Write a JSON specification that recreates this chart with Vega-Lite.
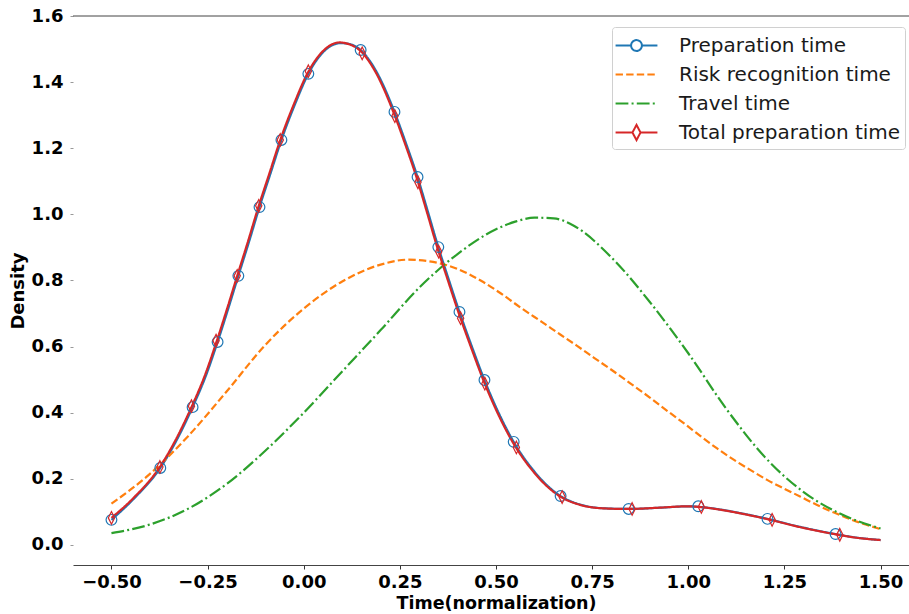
{
  "$schema": "https://vega.github.io/schema/vega-lite/v6.json",
  "width": 846,
  "height": 549,
  "autosize": {"type": "none"},
  "padding": {"left": 73, "top": 16, "right": 0, "bottom": 49},
  "background": "white",
  "config": {
    "view": {"stroke": null},
    "axis": {"grid": false, "labelFont": "DejaVu Sans", "labelFontWeight": "bold", "labelColor": "#000", "titleFont": "DejaVu Sans", "titleFontWeight": "bold", "titleColor": "#000"},
    "legend": {
      "orient": "none", "legendX": 539, "legendY": 11, "title": null,
      "fillColor": "white", "strokeColor": "#d0d0d0", "cornerRadius": 3,
      "padding": 4, "rowPadding": 4, "symbolSize": 729, "symbolStrokeWidth": 2, "symbolOpacity": 1,
      "symbolOffset": 6, "labelOffset": 28,
      "labelFont": "DejaVu Sans", "labelFontSize": 20, "labelColor": "#1a1a1a", "labelLimit": 400
    }
  },
  "datasets": {
    "lines": [
      {"s": "Preparation time", "x": -0.5, "y": 0.076},
      {"s": "Preparation time", "x": -0.44, "y": 0.142},
      {"s": "Preparation time", "x": -0.373, "y": 0.233},
      {"s": "Preparation time", "x": -0.33, "y": 0.318},
      {"s": "Preparation time", "x": -0.289, "y": 0.417},
      {"s": "Preparation time", "x": -0.255, "y": 0.51},
      {"s": "Preparation time", "x": -0.224, "y": 0.614},
      {"s": "Preparation time", "x": -0.197, "y": 0.712},
      {"s": "Preparation time", "x": -0.17, "y": 0.814},
      {"s": "Preparation time", "x": -0.142, "y": 0.918},
      {"s": "Preparation time", "x": -0.115, "y": 1.022},
      {"s": "Preparation time", "x": -0.086, "y": 1.125},
      {"s": "Preparation time", "x": -0.058, "y": 1.225},
      {"s": "Preparation time", "x": -0.022, "y": 1.335},
      {"s": "Preparation time", "x": 0.012, "y": 1.425},
      {"s": "Preparation time", "x": 0.05, "y": 1.49},
      {"s": "Preparation time", "x": 0.096, "y": 1.518},
      {"s": "Preparation time", "x": 0.12, "y": 1.515},
      {"s": "Preparation time", "x": 0.148, "y": 1.497},
      {"s": "Preparation time", "x": 0.19, "y": 1.43},
      {"s": "Preparation time", "x": 0.236, "y": 1.31},
      {"s": "Preparation time", "x": 0.266, "y": 1.215},
      {"s": "Preparation time", "x": 0.296, "y": 1.113},
      {"s": "Preparation time", "x": 0.323, "y": 1.008},
      {"s": "Preparation time", "x": 0.35, "y": 0.901},
      {"s": "Preparation time", "x": 0.378, "y": 0.8},
      {"s": "Preparation time", "x": 0.405, "y": 0.705},
      {"s": "Preparation time", "x": 0.438, "y": 0.598},
      {"s": "Preparation time", "x": 0.47, "y": 0.499},
      {"s": "Preparation time", "x": 0.508, "y": 0.397},
      {"s": "Preparation time", "x": 0.546, "y": 0.312},
      {"s": "Preparation time", "x": 0.6, "y": 0.222},
      {"s": "Preparation time", "x": 0.64, "y": 0.173},
      {"s": "Preparation time", "x": 0.668, "y": 0.148},
      {"s": "Preparation time", "x": 0.72, "y": 0.122},
      {"s": "Preparation time", "x": 0.78, "y": 0.111},
      {"s": "Preparation time", "x": 0.845, "y": 0.109},
      {"s": "Preparation time", "x": 0.93, "y": 0.113},
      {"s": "Preparation time", "x": 1.0, "y": 0.117},
      {"s": "Preparation time", "x": 1.032, "y": 0.115},
      {"s": "Preparation time", "x": 1.1, "y": 0.104},
      {"s": "Preparation time", "x": 1.15, "y": 0.093},
      {"s": "Preparation time", "x": 1.206, "y": 0.079},
      {"s": "Preparation time", "x": 1.29, "y": 0.055},
      {"s": "Preparation time", "x": 1.383, "y": 0.033},
      {"s": "Preparation time", "x": 1.44, "y": 0.022},
      {"s": "Preparation time", "x": 1.5, "y": 0.015},

      {"s": "Risk recognition time", "x": -0.5, "y": 0.125},
      {"s": "Risk recognition time", "x": -0.4, "y": 0.215},
      {"s": "Risk recognition time", "x": -0.3, "y": 0.33},
      {"s": "Risk recognition time", "x": -0.2, "y": 0.465},
      {"s": "Risk recognition time", "x": -0.1, "y": 0.605},
      {"s": "Risk recognition time", "x": 0.0, "y": 0.715},
      {"s": "Risk recognition time", "x": 0.1, "y": 0.797},
      {"s": "Risk recognition time", "x": 0.2, "y": 0.848},
      {"s": "Risk recognition time", "x": 0.27, "y": 0.863},
      {"s": "Risk recognition time", "x": 0.35, "y": 0.853},
      {"s": "Risk recognition time", "x": 0.4, "y": 0.835},
      {"s": "Risk recognition time", "x": 0.46, "y": 0.8},
      {"s": "Risk recognition time", "x": 0.51, "y": 0.763},
      {"s": "Risk recognition time", "x": 0.564, "y": 0.718},
      {"s": "Risk recognition time", "x": 0.62, "y": 0.674},
      {"s": "Risk recognition time", "x": 0.668, "y": 0.636},
      {"s": "Risk recognition time", "x": 0.71, "y": 0.603},
      {"s": "Risk recognition time", "x": 0.754, "y": 0.567},
      {"s": "Risk recognition time", "x": 0.8, "y": 0.53},
      {"s": "Risk recognition time", "x": 0.854, "y": 0.485},
      {"s": "Risk recognition time", "x": 0.9, "y": 0.446},
      {"s": "Risk recognition time", "x": 0.945, "y": 0.406},
      {"s": "Risk recognition time", "x": 0.99, "y": 0.367},
      {"s": "Risk recognition time", "x": 1.032, "y": 0.329},
      {"s": "Risk recognition time", "x": 1.075, "y": 0.292},
      {"s": "Risk recognition time", "x": 1.118, "y": 0.258},
      {"s": "Risk recognition time", "x": 1.16, "y": 0.228},
      {"s": "Risk recognition time", "x": 1.205, "y": 0.197},
      {"s": "Risk recognition time", "x": 1.25, "y": 0.17},
      {"s": "Risk recognition time", "x": 1.292, "y": 0.146},
      {"s": "Risk recognition time", "x": 1.335, "y": 0.121},
      {"s": "Risk recognition time", "x": 1.379, "y": 0.098},
      {"s": "Risk recognition time", "x": 1.44, "y": 0.07},
      {"s": "Risk recognition time", "x": 1.5, "y": 0.048},

      {"s": "Travel time", "x": -0.5, "y": 0.036},
      {"s": "Travel time", "x": -0.4, "y": 0.062},
      {"s": "Travel time", "x": -0.3, "y": 0.11},
      {"s": "Travel time", "x": -0.2, "y": 0.185},
      {"s": "Travel time", "x": -0.1, "y": 0.285},
      {"s": "Travel time", "x": 0.0, "y": 0.4},
      {"s": "Travel time", "x": 0.1, "y": 0.525},
      {"s": "Travel time", "x": 0.2, "y": 0.65},
      {"s": "Travel time", "x": 0.3, "y": 0.778},
      {"s": "Travel time", "x": 0.4, "y": 0.88},
      {"s": "Travel time", "x": 0.5, "y": 0.955},
      {"s": "Travel time", "x": 0.55, "y": 0.978},
      {"s": "Travel time", "x": 0.6, "y": 0.99},
      {"s": "Travel time", "x": 0.65, "y": 0.988},
      {"s": "Travel time", "x": 0.7, "y": 0.967},
      {"s": "Travel time", "x": 0.8, "y": 0.87},
      {"s": "Travel time", "x": 0.9, "y": 0.735},
      {"s": "Travel time", "x": 1.0, "y": 0.58},
      {"s": "Travel time", "x": 1.1, "y": 0.41},
      {"s": "Travel time", "x": 1.2, "y": 0.265},
      {"s": "Travel time", "x": 1.3, "y": 0.16},
      {"s": "Travel time", "x": 1.4, "y": 0.092},
      {"s": "Travel time", "x": 1.5, "y": 0.05},

      {"s": "Total preparation time", "x": -0.5, "y": 0.082},
      {"s": "Total preparation time", "x": -0.443, "y": 0.142},
      {"s": "Total preparation time", "x": -0.376, "y": 0.233},
      {"s": "Total preparation time", "x": -0.333, "y": 0.318},
      {"s": "Total preparation time", "x": -0.292, "y": 0.417},
      {"s": "Total preparation time", "x": -0.258, "y": 0.51},
      {"s": "Total preparation time", "x": -0.227, "y": 0.614},
      {"s": "Total preparation time", "x": -0.2, "y": 0.712},
      {"s": "Total preparation time", "x": -0.173, "y": 0.814},
      {"s": "Total preparation time", "x": -0.145, "y": 0.918},
      {"s": "Total preparation time", "x": -0.118, "y": 1.022},
      {"s": "Total preparation time", "x": -0.089, "y": 1.125},
      {"s": "Total preparation time", "x": -0.061, "y": 1.225},
      {"s": "Total preparation time", "x": -0.025, "y": 1.335},
      {"s": "Total preparation time", "x": 0.009, "y": 1.425},
      {"s": "Total preparation time", "x": 0.047, "y": 1.49},
      {"s": "Total preparation time", "x": 0.093, "y": 1.52},
      {"s": "Total preparation time", "x": 0.117, "y": 1.515},
      {"s": "Total preparation time", "x": 0.145, "y": 1.497},
      {"s": "Total preparation time", "x": 0.187, "y": 1.43},
      {"s": "Total preparation time", "x": 0.233, "y": 1.31},
      {"s": "Total preparation time", "x": 0.263, "y": 1.215},
      {"s": "Total preparation time", "x": 0.293, "y": 1.113},
      {"s": "Total preparation time", "x": 0.32, "y": 1.008},
      {"s": "Total preparation time", "x": 0.347, "y": 0.901},
      {"s": "Total preparation time", "x": 0.375, "y": 0.8},
      {"s": "Total preparation time", "x": 0.402, "y": 0.705},
      {"s": "Total preparation time", "x": 0.435, "y": 0.598},
      {"s": "Total preparation time", "x": 0.467, "y": 0.499},
      {"s": "Total preparation time", "x": 0.505, "y": 0.397},
      {"s": "Total preparation time", "x": 0.543, "y": 0.312},
      {"s": "Total preparation time", "x": 0.597, "y": 0.222},
      {"s": "Total preparation time", "x": 0.637, "y": 0.173},
      {"s": "Total preparation time", "x": 0.665, "y": 0.148},
      {"s": "Total preparation time", "x": 0.717, "y": 0.122},
      {"s": "Total preparation time", "x": 0.777, "y": 0.111},
      {"s": "Total preparation time", "x": 0.842, "y": 0.109},
      {"s": "Total preparation time", "x": 0.927, "y": 0.113},
      {"s": "Total preparation time", "x": 0.997, "y": 0.117},
      {"s": "Total preparation time", "x": 1.029, "y": 0.115},
      {"s": "Total preparation time", "x": 1.097, "y": 0.104},
      {"s": "Total preparation time", "x": 1.147, "y": 0.093},
      {"s": "Total preparation time", "x": 1.203, "y": 0.079},
      {"s": "Total preparation time", "x": 1.287, "y": 0.055},
      {"s": "Total preparation time", "x": 1.38, "y": 0.033},
      {"s": "Total preparation time", "x": 1.437, "y": 0.022},
      {"s": "Total preparation time", "x": 1.5, "y": 0.015}
    ],
    "circles": [
      {"x": -0.5, "y": 0.076}, {"x": -0.373, "y": 0.233}, {"x": -0.289, "y": 0.417},
      {"x": -0.224, "y": 0.614}, {"x": -0.17, "y": 0.814}, {"x": -0.115, "y": 1.022},
      {"x": -0.058, "y": 1.225}, {"x": 0.012, "y": 1.425}, {"x": 0.148, "y": 1.497},
      {"x": 0.236, "y": 1.31}, {"x": 0.296, "y": 1.113}, {"x": 0.35, "y": 0.901},
      {"x": 0.405, "y": 0.705}, {"x": 0.47, "y": 0.499}, {"x": 0.546, "y": 0.312},
      {"x": 0.668, "y": 0.148}, {"x": 0.845, "y": 0.109}, {"x": 1.026, "y": 0.117},
      {"x": 1.206, "y": 0.079}, {"x": 1.383, "y": 0.033}
    ],
    "diamonds": [
      {"x": -0.5, "y": 0.082}, {"x": -0.374, "y": 0.236}, {"x": -0.292, "y": 0.42},
      {"x": -0.228, "y": 0.618}, {"x": -0.173, "y": 0.814}, {"x": -0.117, "y": 1.026},
      {"x": -0.061, "y": 1.225}, {"x": 0.012, "y": 1.433}, {"x": 0.152, "y": 1.487},
      {"x": 0.237, "y": 1.297}, {"x": 0.297, "y": 1.097}, {"x": 0.351, "y": 0.887},
      {"x": 0.408, "y": 0.686}, {"x": 0.471, "y": 0.488}, {"x": 0.553, "y": 0.295},
      {"x": 0.672, "y": 0.145}, {"x": 0.854, "y": 0.109}, {"x": 1.034, "y": 0.115},
      {"x": 1.218, "y": 0.076}, {"x": 1.394, "y": 0.031}
    ]
  },
  "layer": [
    {
      "data": {"values": [{}]},
      "mark": {"type": "rule", "color": "#444", "strokeWidth": 1},
      "encoding": {"y": {"datum": 1.6, "type": "quantitative"}}
    },
    {
      "data": {"name": "lines"},
      "mark": {"type": "line", "interpolate": "monotone", "strokeWidth": 2.2},
      "encoding": {
        "x": {"field": "x", "type": "quantitative", "scale": {"domain": [-0.6, 1.6], "nice": false, "zero": false},
          "axis": {"title": "Time(normalization)", "values": [-0.5, -0.25, 0, 0.25, 0.5, 0.75, 1, 1.25, 1.5], "format": ".2f",
            "labelFontSize": 18, "titleFontSize": 17.5, "tickSize": 4, "tickColor": "#333", "domainColor": "#444",
            "labelPadding": 4, "titlePadding": 3, "labelFlush": false}},
        "y": {"field": "y", "type": "quantitative", "scale": {"domain": [-0.0605, 1.6], "nice": false, "zero": false},
          "axis": {"title": "Density", "values": [0, 0.2, 0.4, 0.6, 0.8, 1.0, 1.2, 1.4, 1.6], "format": ".1f",
            "labelFontSize": 18, "titleFontSize": 18, "tickSize": 3, "tickColor": "#999", "domain": false,
            "labelPadding": 7, "titlePadding": 4}},
        "color": {"field": "s", "type": "nominal",
          "scale": {"domain": ["Preparation time", "Risk recognition time", "Travel time", "Total preparation time"],
            "range": ["#1f77b4", "#ff7f0e", "#2ca02c", "#d62728"]}},
        "strokeDash": {"field": "s", "type": "nominal",
          "scale": {"domain": ["Preparation time", "Risk recognition time", "Travel time", "Total preparation time"],
            "range": [[1, 0], [7.4, 3.2], [12.8, 3.2, 2, 3.2], [1, 0]]}}
      }
    },
    {
      "data": {"name": "circles"},
      "mark": {"type": "point", "filled": false, "strokeWidth": 1.2, "size": 115, "shape": "circle", "color": "#1f77b4", "opacity": 1},
      "encoding": {
        "x": {"field": "x", "type": "quantitative"},
        "y": {"field": "y", "type": "quantitative"}
      }
    },
    {
      "data": {"name": "diamonds"},
      "mark": {"type": "point", "filled": false, "strokeWidth": 1.2, "size": 110, "shape": "M0,-1.2L0.6,0L0,1.2L-0.6,0Z", "color": "#d62728", "opacity": 1},
      "encoding": {
        "x": {"field": "x", "type": "quantitative"},
        "y": {"field": "y", "type": "quantitative"}
      }
    },
    {
      "data": {"values": []},
      "mark": {"type": "point", "filled": false, "strokeWidth": 2, "opacity": 1},
      "encoding": {
        "x": {"field": "x", "type": "quantitative"},
        "y": {"field": "y", "type": "quantitative"},
        "color": {"field": "s", "type": "nominal"},
        "strokeDash": {"field": "s", "type": "nominal"},
        "shape": {"field": "s", "type": "nominal",
          "scale": {"domain": ["Preparation time", "Risk recognition time", "Travel time", "Total preparation time"],
            "range": ["M-1.55,0H-0.4M0.4,0H1.55M0.4,0A0.4,0.4 0 1 1 -0.4,0A0.4,0.4 0 1 1 0.4,0", "M-1.55,0H1.55", "M-1.55,0H1.55", "M-1.55,0H-0.3M0.3,0H1.55M0,-0.56L0.3,0L0,0.56L-0.3,0Z"]}}
      }
    }
  ]
}
